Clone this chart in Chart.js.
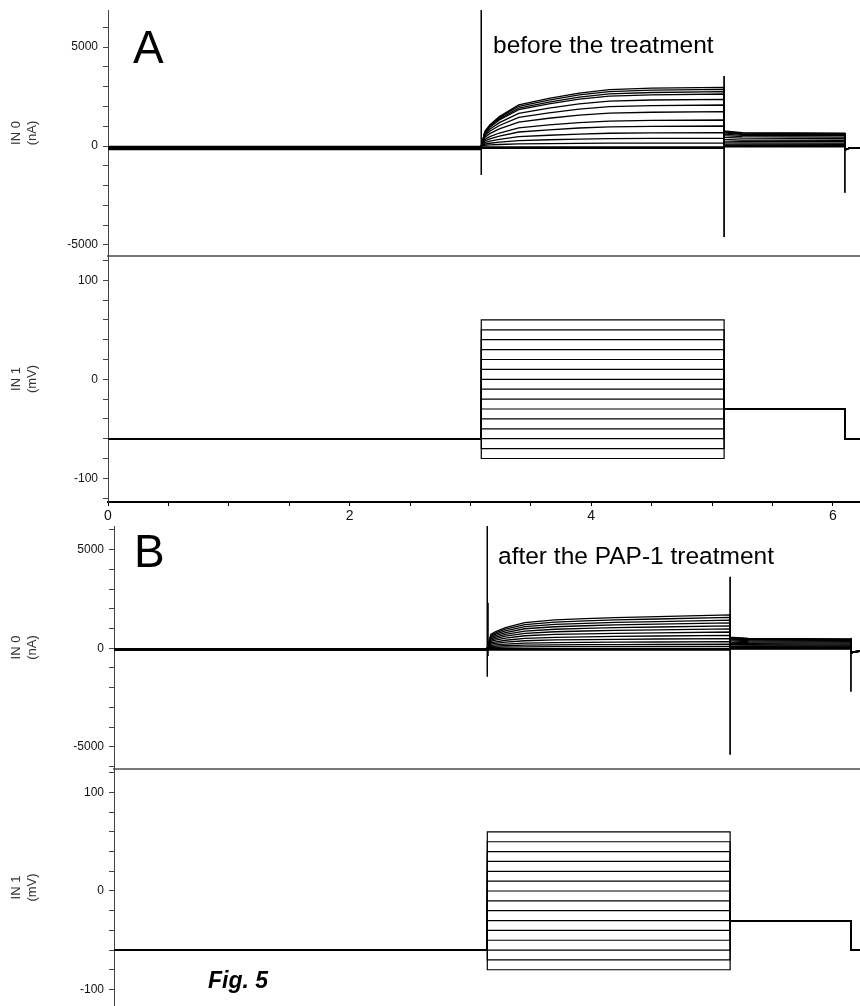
<!DOCTYPE html>
<html>
<head>
<meta charset="utf-8">
<script src="https://cdn.jsdelivr.net/npm/chart.js@4.4.1/dist/chart.umd.min.js"></script>
<style>
  body { margin: 0; background: #fff; }
  #page { position: relative; width: 860px; height: 1006px; overflow: hidden; font-family: "Liberation Sans", Arial, sans-serif; }
  .box { position: absolute; left: 0; }
  .box canvas { display: block; }
  .txt { position: absolute; line-height: 1; white-space: nowrap; color: #000; }
</style>
</head>
<body>
<div id="page">
  <div class="box" style="top:0px"><canvas id="aCur" width="860" height="257"></canvas></div>
  <div class="box" style="top:256px"><canvas id="aVolt" width="860" height="272"></canvas></div>
  <div class="box" style="top:516px"><canvas id="bCur" width="860" height="254"></canvas></div>
  <div class="box" style="top:769px"><canvas id="bVolt" width="860" height="237"></canvas></div>

  <div class="txt" style="left:133px;top:24px;font-size:46px">A</div>
  <div class="txt" style="left:134px;top:528px;font-size:46px">B</div>
  <div class="txt" style="left:493px;top:33px;font-size:24.5px">before the treatment</div>
  <div class="txt" style="left:498px;top:544px;font-size:24.5px">after the PAP-1 treatment</div>
  <div class="txt" style="left:208px;top:969px;font-size:23px;font-weight:bold;font-style:italic">Fig. 5</div>
</div>

<script>
// protocol timing (x axis units)
const tStart = 0, tOn = 3.09, tOff = 5.10, tTailOff = 6.10, tEnd = 6.25;

// voltage protocol (mV)
const stepVolts = [60, 50, 40, 30, 20, 10, 0, -10, -20, -30, -40, -50, -60, -70, -80];
const holdVolt = -60;
const tailVolt = -30;

// sample times inside the step, tail and after it
const stepTimes = [3.09, 3.12, 3.16, 3.24, 3.4, 3.65, 3.9, 4.15, 4.5, 5.10];
const tailTimes = [5.10, 5.25, 6.10];
const postTimes = [6.10, 6.13, 6.25];

// axis ticks
const currentTicks = [-6000, -5000, -4000, -3000, -2000, -1000, 0, 1000, 2000, 3000, 4000, 5000, 6000];
const currentLabels = [-5000, 0, 5000];
const voltTicks = [-120, -100, -80, -60, -40, -20, 0, 20, 40, 60, 80, 100, 120];
const voltLabels = [-100, 0, 100];
const timeTicks = [0, 0.5, 1, 1.5, 2, 2.5, 3, 3.5, 4, 4.5, 5, 5.5, 6];
const timeLabels = [0, 2, 4, 6];

// panel A (before) - currents in nA, one row per step voltage
const holdA = [-20, -40, -60, -80, -100, -120, -140, -160, -180, -40, -80, -120, -60, -100, -140];
const stepA = [
  [0, 741, 1067, 1483, 2076, 2402, 2669, 2846, 2921, 2965],
  [0, 716, 1031, 1432, 2005, 2320, 2578, 2749, 2821, 2864],
  [0, 686, 987, 1372, 1920, 2222, 2469, 2633, 2702, 2743],
  [0, 657, 945, 1313, 1838, 2127, 2363, 2521, 2587, 2626],
  [0, 590, 849, 1180, 1651, 1911, 2123, 2265, 2324, 2359],
  [0, 518, 746, 1036, 1450, 1678, 1864, 1988, 2040, 2071],
  [0, 433, 624, 866, 1212, 1403, 1559, 1663, 1706, 1732],
  [0, 328, 473, 657, 919, 1064, 1182, 1260, 1293, 1313],
  [0, 253, 364, 505, 707, 818, 909, 970, 995, 1010],
  [0, 168, 242, 336, 470, 544, 605, 645, 662, 672],
  [0, 97, 140, 195, 272, 315, 350, 373, 383, 389],
  [0, 38, 54, 75, 105, 122, 135, 144, 148, 150],
  [-40, -40, -40, -40, -40, -40, -40, -40, -40, -40],
  [-80, -80, -80, -80, -80, -80, -80, -80, -80, -80],
  [-120, -120, -120, -120, -120, -120, -120, -120, -120, -120]
];
const tailA = [
  [760, 680, 650], [730, 650, 625], [700, 620, 600], [660, 590, 570], [600, 540, 520],
  [520, 470, 450], [440, 400, 380], [330, 300, 290], [250, 230, 220], [170, 155, 150],
  [100, 95, 90], [40, 38, 35], [0, 0, 0], [-20, -20, -20], [-40, -40, -40]
];
const postA = [-200, -120, -90];
const spikesA = [
  { t: 3.09, hi: 7000, lo: -1460 },
  { t: 5.10, hi: 3530, lo: -4600 },
  { t: 6.10, hi: 650, lo: -2360 }
];

// panel B (after PAP-1)
const holdB = [-20, -30, -40, -50, -60, -70, -80, -90, -100, -30, -50, -70, -40, -60, -80];
const stepB = [
  [0, 710, 845, 1048, 1301, 1437, 1504, 1555, 1606, 1690],
  [0, 655, 780, 967, 1201, 1326, 1388, 1435, 1482, 1560],
  [0, 596, 710, 880, 1093, 1207, 1264, 1306, 1349, 1420],
  [0, 538, 640, 794, 986, 1088, 1139, 1178, 1216, 1280],
  [0, 475, 565, 701, 870, 961, 1006, 1040, 1074, 1130],
  [0, 412, 490, 608, 755, 833, 872, 902, 931, 980],
  [0, 344, 410, 508, 631, 697, 730, 754, 779, 820],
  [0, 273, 325, 403, 501, 553, 579, 598, 618, 650],
  [0, 206, 245, 304, 377, 417, 436, 451, 466, 490],
  [0, 139, 165, 205, 254, 281, 294, 304, 314, 330],
  [0, 84, 100, 124, 154, 170, 178, 184, 190, 200],
  [0, 38, 45, 56, 69, 77, 80, 83, 86, 90],
  [-20, -20, -20, -20, -20, -20, -20, -20, -20, -20],
  [-60, -60, -60, -60, -60, -60, -60, -60, -60, -60],
  [-100, -100, -100, -100, -100, -100, -100, -100, -100, -100]
];
const tailB = [
  [560, 500, 470], [530, 480, 450], [500, 450, 420], [460, 420, 390], [420, 380, 350],
  [370, 335, 310], [310, 285, 260], [250, 230, 210], [190, 175, 160], [130, 120, 110],
  [80, 75, 70], [40, 38, 35], [0, 0, 0], [-20, -20, -20], [-40, -40, -40]
];
const postB = [-250, -170, -150];
const spikesB = [
  { t: 3.09, hi: 7000, lo: -1440 },
  { t: 3.095, hi: 2300, lo: -400 },
  { t: 5.10, hi: 3620, lo: -5400 },
  { t: 6.10, hi: 520, lo: -2200 }
];

Chart.defaults.font.family = '"Liberation Sans", Arial, sans-serif';
Chart.defaults.color = '#111';

function currentSets(hold, step, tail, post, spikes) {
  const sets = [];
  for (let i = 0; i < step.length; i++) {
    const pts = [{ x: tStart, y: hold[i] }, { x: tOn, y: hold[i] }];
    stepTimes.forEach((t, k) => pts.push({ x: t, y: step[i][k] }));
    tailTimes.forEach((t, k) => pts.push({ x: t, y: tail[i][k] }));
    postTimes.forEach((t, k) => pts.push({ x: t, y: post[k] }));
    sets.push({ data: pts, borderWidth: 1.3 });
  }
  spikes.forEach(s => sets.push({ data: [{ x: s.t, y: s.hi }, { x: s.t, y: s.lo }] }));
  return sets;
}

function voltSets() {
  return stepVolts.map(v => ({
    borderWidth: 1.2,
    data: [
      { x: tStart, y: holdVolt }, { x: tOn, y: holdVolt }, { x: tOn, y: v }, { x: tOff, y: v },
      { x: tOff, y: tailVolt }, { x: tTailOff, y: tailVolt }, { x: tTailOff, y: holdVolt }, { x: tEnd, y: holdVolt }
    ]
  }));
}

function yScale(o) {
  return {
    type: 'linear',
    min: o.min,
    max: o.max,
    afterBuildTicks: s => { s.ticks = o.ticks.filter(v => v >= o.min && v <= o.max).map(v => ({ value: v })); },
    ticks: {
      autoSkip: false,
      padding: 5,
      color: '#111',
      font: { size: 12 },
      callback: v => o.labels.includes(v) ? String(v) : ''
    },
    grid: { display: true, drawOnChartArea: false, drawTicks: true, tickLength: 5, tickColor: '#444' },
    border: { display: true, color: '#444', width: 1 },
    title: { display: true, text: o.title, color: '#333', font: { size: 13 }, padding: { top: 9, bottom: 0 } },
    afterFit: s => { s.width = o.axisW; s.paddingTop = 0; s.paddingBottom = 0; }
  };
}

function xScale(o) {
  if (o.mode === 'hidden') return { type: 'linear', display: false, min: 0, max: o.max };
  if (o.mode === 'line') {
    // bare axis line used as the divider between the two traces
    return {
      type: 'linear', min: 0, max: o.max,
      ticks: { display: false },
      grid: { display: false, drawTicks: false },
      border: { display: true, color: '#777', width: 2 },
      afterFit: s => { s.height = 1; s.paddingLeft = 0; s.paddingRight = 0; }
    };
  }
  return {
    type: 'linear', min: 0, max: o.max,
    afterBuildTicks: s => { s.ticks = timeTicks.map(v => ({ value: v })); },
    ticks: {
      autoSkip: false, maxRotation: 0, padding: 2, color: '#111',
      font: { size: 14 },
      callback: v => timeLabels.includes(v) ? String(v) : ''
    },
    grid: { display: true, drawOnChartArea: false, drawTicks: true, tickLength: 4, tickColor: '#000' },
    border: { display: true, color: '#000', width: 2 },
    afterFit: s => { s.height = 26; s.paddingLeft = 0; s.paddingRight = 0; }
  };
}

function makeChart(id, datasets, padTop, x, y) {
  return new Chart(document.getElementById(id), {
    type: 'line',
    data: { datasets: datasets },
    options: {
      responsive: false,
      animation: false,
      events: [],
      layout: { padding: { top: padTop, right: 0, bottom: 0, left: 0 } },
      plugins: { legend: { display: false }, tooltip: { enabled: false } },
      elements: {
        point: { radius: 0 },
        line: { borderWidth: 1, borderColor: '#000', tension: 0, fill: false }
      },
      scales: { x: x, y: y }
    }
  });
}

// panel A
makeChart('aCur', currentSets(holdA, stepA, tailA, postA, spikesA), 10,
  xScale({ mode: 'line', max: 6.225 }),
  yScale({ min: -5556, max: 6870, ticks: currentTicks, labels: currentLabels, title: ['IN 0', '(nA)'], axisW: 108 }));
makeChart('aVolt', voltSets(), 0,
  xScale({ mode: 'axis', max: 6.225 }),
  yScale({ min: -123.9, max: 124.5, ticks: voltTicks, labels: voltLabels, title: ['IN 1', '(mV)'], axisW: 108 }));

// panel B
makeChart('bCur', currentSets(holdB, stepB, tailB, postB, spikesB), 10,
  xScale({ mode: 'line', max: 6.175 }),
  yScale({ min: -6130, max: 6200, ticks: currentTicks, labels: currentLabels, title: ['IN 0', '(nA)'], axisW: 114 }));
makeChart('bVolt', voltSets(), 0,
  xScale({ mode: 'hidden', max: 6.175 }),
  yScale({ min: -116.8, max: 123.9, ticks: voltTicks, labels: voltLabels, title: ['IN 1', '(mV)'], axisW: 114 }));
</script>
</body>
</html>
